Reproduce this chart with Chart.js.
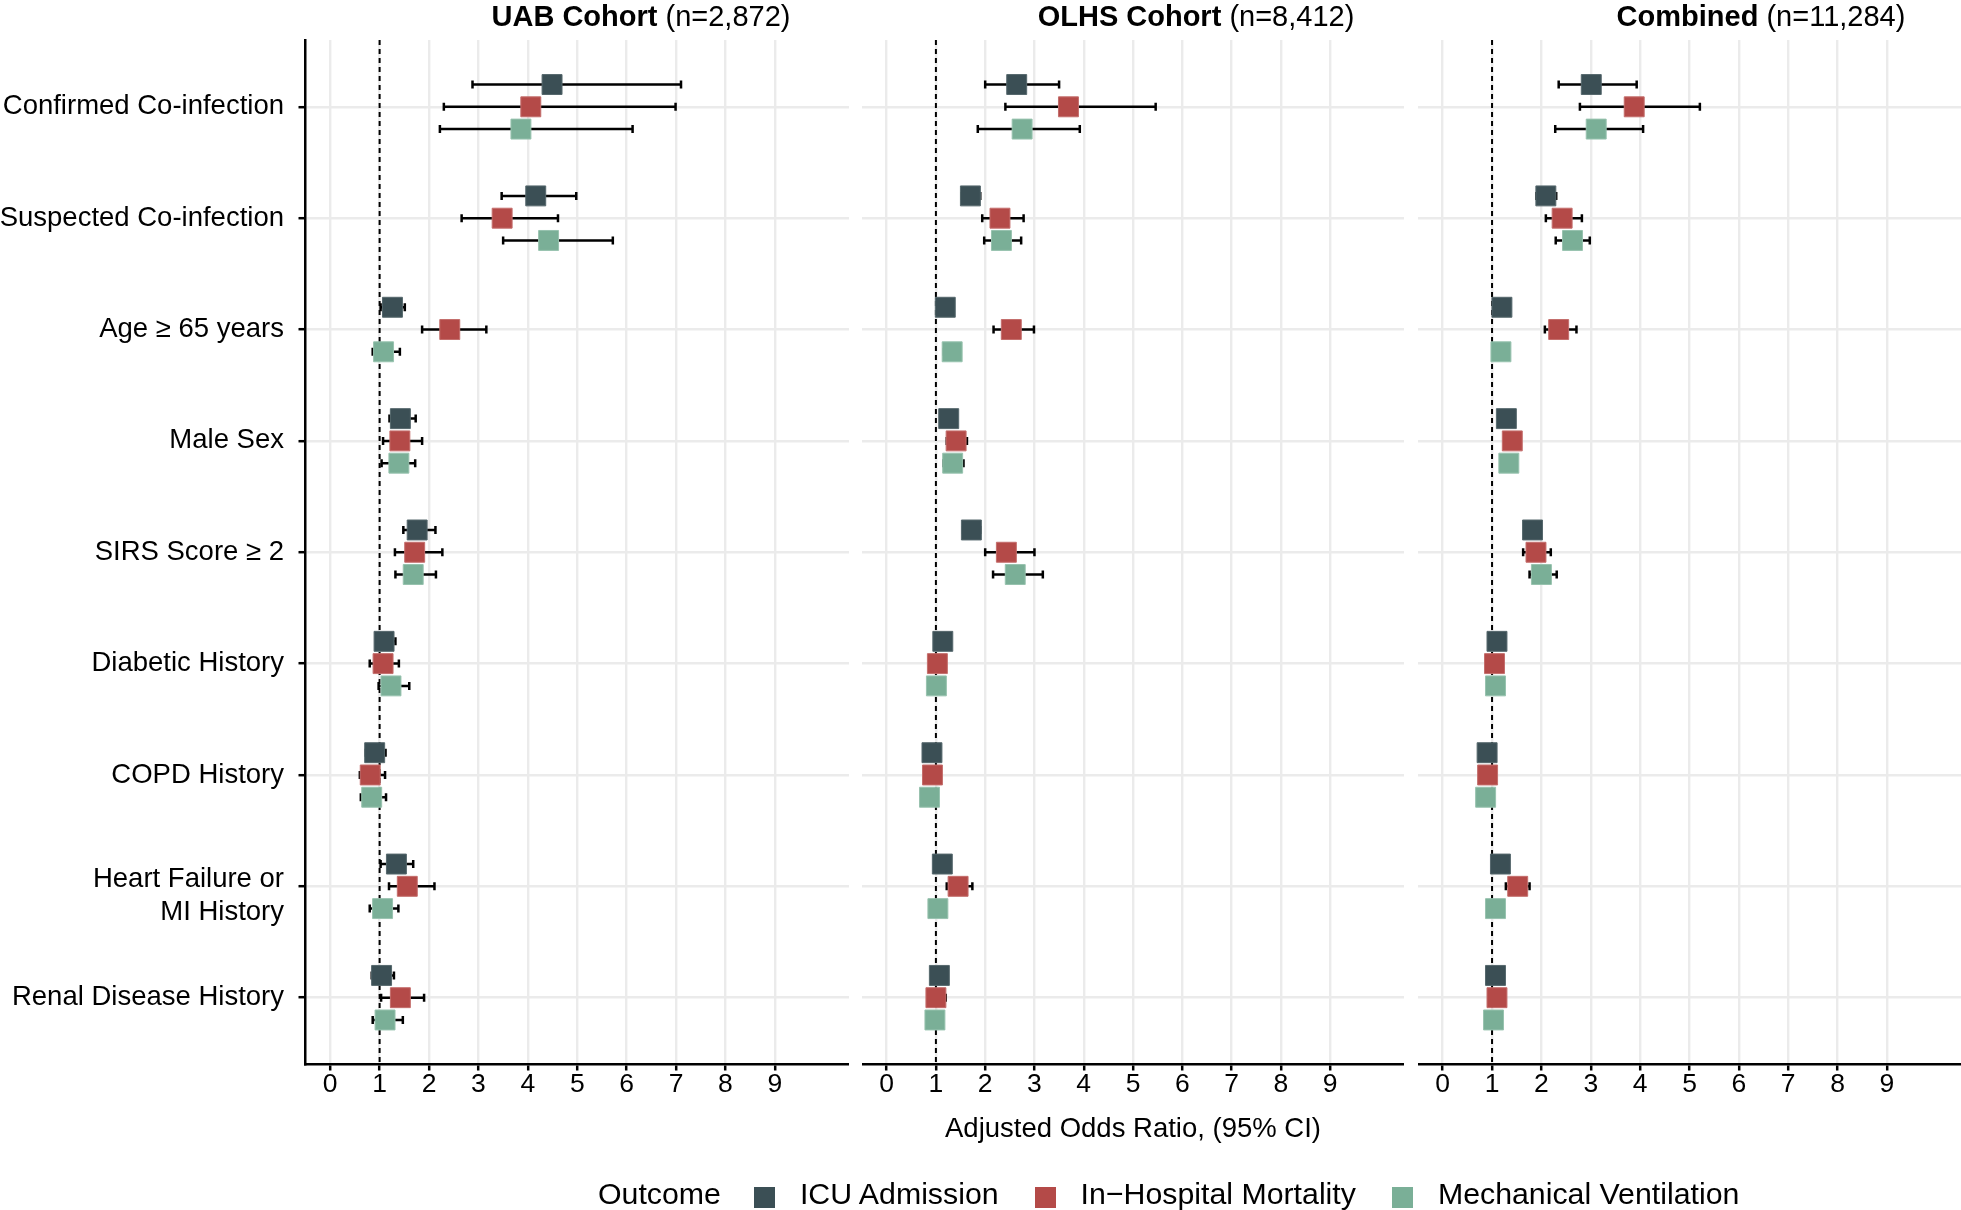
<!DOCTYPE html>
<html>
<head>
<meta charset="utf-8">
<title>Adjusted odds ratios by cohort</title>
<script src="https://cdn.jsdelivr.net/npm/chart.js@4.4.1/dist/chart.umd.min.js"></script>
<style>
  html, body { margin: 0; padding: 0; background: #fff; }
  body {
    width: 1961px; height: 1210px; position: relative; overflow: hidden;
    font-family: "Liberation Sans", Arial, sans-serif; color: #000;
  }
  .panel { position: absolute; top: 0; height: 1210px; }
  .panel canvas { display: block; }
  .title {
    position: absolute; top: 0; line-height: 32px; font-size: 29px;
    white-space: nowrap; transform: translateX(-50%);
  }
  .legend {
    position: absolute; top: 1177px; left: 598px; display: flex; align-items: flex-start;
    font-size: 30.3px; line-height: 34px; white-space: nowrap;
  }
  .legend .key { width: 21px; height: 21px; margin-top: 10px; margin-right: 25px; }
</style>
</head>
<body>
<div class="panel" id="p1" style="left:0;width:849px"><canvas id="c1" width="849" height="1210"></canvas></div>
<div class="panel" id="p2" style="left:862px;width:542px"><canvas id="c2" width="542" height="1210"></canvas></div>
<div class="panel" id="p3" style="left:1418px;width:543px"><canvas id="c3" width="543" height="1210"></canvas></div>
<div id="titles"></div>
<div class="legend" id="legend"></div>

<script>
  const CATEGORIES = [
    "Confirmed Co-infection",
    "Suspected Co-infection",
    "Age \u2265 65 years",
    "Male Sex",
    "SIRS Score \u2265 2",
    "Diabetic History",
    "COPD History",
    ["Heart Failure or", "MI History"],
    "Renal Disease History",
  ];
  const X_TICKS = [0, 1, 2, 3, 4, 5, 6, 7, 8, 9];
  const X_TITLE = "Adjusted Odds Ratio, (95% CI)";
  const REF_VALUE = 1;

  const OUTCOMES = ["ICU Admission", "In\u2212Hospital Mortality", "Mechanical Ventilation"];
  const COLORS = ["#3b4f55", "#b44a48", "#7aaf97"];
  const EDGES = ["#56686d", "#c46e6c", "#98c3af"];

  const PANEL_TITLES = ["UAB Cohort", "OLHS Cohort", "Combined"];
  const PANEL_N = ["(n=2,872)", "(n=8,412)", "(n=11,284)"];

  // each row: [odds ratio, lower 95% CI, upper 95% CI], one row per category
  const uabIcu = [
    [4.49, 2.88, 7.10], [4.16, 3.47, 4.98], [1.26, 1.02, 1.51], [1.42, 1.20, 1.73], [1.76, 1.48, 2.13],
    [1.09, 0.98, 1.32], [0.90, 0.72, 1.12], [1.34, 1.02, 1.68], [1.04, 0.84, 1.29],
  ];
  const uabMort = [
    [4.06, 2.30, 6.99], [3.48, 2.66, 4.61], [2.42, 1.86, 3.16], [1.41, 1.07, 1.86], [1.71, 1.31, 2.27],
    [1.07, 0.80, 1.39], [0.81, 0.60, 1.11], [1.56, 1.19, 2.11], [1.42, 1.03, 1.90],
  ];
  const uabVent = [
    [3.86, 2.22, 6.12], [4.42, 3.50, 5.72], [1.08, 0.86, 1.41], [1.39, 1.04, 1.72], [1.68, 1.32, 2.14],
    [1.23, 0.98, 1.60], [0.84, 0.62, 1.13], [1.06, 0.80, 1.38], [1.11, 0.86, 1.47],
  ];

  const olhsIcu = [
    [2.64, 2.00, 3.50], [1.70, 1.52, 1.90], [1.19, 1.05, 1.35], [1.26, 1.12, 1.42], [1.72, 1.55, 1.90],
    [1.14, 1.02, 1.28], [0.92, 0.80, 1.04], [1.13, 0.99, 1.29], [1.07, 0.93, 1.22],
  ];
  const olhsMort = [
    [3.69, 2.41, 5.46], [2.30, 1.94, 2.78], [2.53, 2.17, 2.99], [1.41, 1.22, 1.63], [2.43, 2.00, 3.00],
    [1.03, 0.89, 1.18], [0.93, 0.80, 1.08], [1.45, 1.22, 1.74], [1.00, 0.84, 1.20],
  ];
  const olhsVent = [
    [2.75, 1.85, 3.92], [2.33, 1.98, 2.73], [1.33, 1.16, 1.50], [1.34, 1.15, 1.56], [2.61, 2.16, 3.17],
    [1.01, 0.86, 1.17], [0.87, 0.74, 1.02], [1.04, 0.90, 1.20], [0.98, 0.84, 1.14],
  ];

  const combIcu = [
    [3.01, 2.35, 3.93], [2.09, 1.90, 2.30], [1.20, 1.06, 1.36], [1.29, 1.14, 1.45], [1.82, 1.66, 1.99],
    [1.10, 0.98, 1.24], [0.90, 0.80, 1.02], [1.17, 1.04, 1.32], [1.07, 0.95, 1.20],
  ];
  const combMort = [
    [3.88, 2.78, 5.21], [2.42, 2.09, 2.82], [2.35, 2.07, 2.71], [1.41, 1.26, 1.57], [1.89, 1.63, 2.19],
    [1.05, 0.92, 1.18], [0.91, 0.80, 1.04], [1.52, 1.28, 1.76], [1.10, 0.98, 1.24],
  ];
  const combVent = [
    [3.11, 2.28, 4.06], [2.63, 2.29, 2.98], [1.18, 1.04, 1.33], [1.34, 1.19, 1.50], [2.00, 1.76, 2.31],
    [1.07, 0.94, 1.22], [0.87, 0.76, 1.00], [1.07, 0.94, 1.22], [1.03, 0.91, 1.17],
  ];

  // vertical dodge of the three outcomes inside a category row
  const DODGE = [-0.2, 0, 0.2];
  // two-line labels sit a little below their row, like the original
  const MULTILINE_NUDGE = 0.087;

  Chart.defaults.font.family = "'Liberation Sans', Arial, sans-serif";
  Chart.defaults.color = "#000";

  const refLine = {
    id: "refLine",
    beforeDatasetsDraw(chart) {
      const { ctx, chartArea, scales } = chart;
      const px = scales.x.getPixelForValue(REF_VALUE);
      ctx.save();
      ctx.strokeStyle = "#000";
      ctx.lineWidth = 2;
      ctx.setLineDash([5, 4]);
      ctx.beginPath();
      ctx.moveTo(px, chartArea.top);
      ctx.lineTo(px, chartArea.bottom);
      ctx.stroke();
      ctx.restore();
    },
  };

  const errorBars = {
    id: "errorBars",
    beforeDatasetsDraw(chart) {
      const { ctx, scales: { x, y } } = chart;
      ctx.save();
      ctx.strokeStyle = "#000";
      ctx.lineWidth = 2.5;
      chart.data.datasets.forEach((ds) => {
        ds.data.forEach((p) => {
          const py = y.getPixelForValue(p.y);
          const x1 = x.getPixelForValue(p.lo);
          const x2 = x.getPixelForValue(p.hi);
          ctx.beginPath();
          ctx.moveTo(x1, py);
          ctx.lineTo(x2, py);
          ctx.moveTo(x1, py - 4);
          ctx.lineTo(x1, py + 4);
          ctx.moveTo(x2, py - 4);
          ctx.lineTo(x2, py + 4);
          ctx.stroke();
        });
      });
      ctx.restore();
    },
  };

  function isRow(value) {
    return Number.isInteger(value);
  }

  function makePanel(canvasId, groups, withLabels, withTitle) {
    const datasets = groups.map((rows, k) => ({
      label: OUTCOMES[k],
      data: rows.map((r, i) => ({ x: r[0], y: i + DODGE[k], lo: r[1], hi: r[2] })),
      pointStyle: "rect",
      pointRadius: 14.1,
      pointHoverRadius: 14.1,
      backgroundColor: COLORS[k],
      borderColor: EDGES[k],
      borderWidth: 1,
    }));

    return new Chart(document.getElementById(canvasId), {
      type: "scatter",
      data: { datasets },
      plugins: [refLine, errorBars],
      options: {
        responsive: false,
        animation: false,
        events: [],
        layout: { autoPadding: false, padding: { top: 40, left: 0, right: 0, bottom: 0 } },
        plugins: { legend: { display: false }, tooltip: { enabled: false }, title: { display: false } },
        scales: {
          x: {
            type: "linear",
            min: -0.5,
            max: 10.5,
            afterBuildTicks: (s) => { s.ticks = X_TICKS.map((v) => ({ value: v })); },
            afterFit: (s) => { s.height = 145.5; },
            grid: { color: "#ebebeb", lineWidth: 2.4, tickLength: 6, tickColor: "#000", tickWidth: 2.5 },
            border: { color: "#000", width: 2.5 },
            ticks: {
              padding: -2,
              color: "#000",
              autoSkip: false,
              maxRotation: 0,
              font: { size: 26.5 },
              callback: (v) => String(v),
            },
            title: {
              display: withTitle,
              text: X_TITLE,
              color: "#000",
              font: { size: 27.5 },
              padding: { top: 0, bottom: 64.5 },
            },
          },
          y: {
            type: "linear",
            reverse: true,
            min: -0.6,
            max: 8.6,
            afterBuildTicks: (s) => {
              const ticks = [];
              CATEGORIES.forEach((c, i) => {
                ticks.push({ value: i });
                if (Array.isArray(c)) {
                  ticks.push({ value: i + MULTILINE_NUDGE });
                }
              });
              s.ticks = ticks;
            },
            afterFit: (s) => { s.width = withLabels ? 305.5 : 0; },
            grid: {
              color: (c) => (isRow(c.tick.value) ? "#ebebeb" : "rgba(0,0,0,0)"),
              lineWidth: 2.4,
              drawTicks: withLabels,
              tickLength: 7,
              tickColor: (c) => (isRow(c.tick.value) ? "#000" : "rgba(0,0,0,0)"),
              tickWidth: 2.5,
            },
            border: { display: withLabels, color: "#000", width: 2.5 },
            ticks: {
              display: withLabels,
              padding: 14.5,
              color: "#000",
              autoSkip: false,
              font: { size: 27.5, lineHeight: 1.2 },
              callback: (v) => {
                if (isRow(v)) {
                  return Array.isArray(CATEGORIES[v]) ? "" : CATEGORIES[v];
                }
                return CATEGORIES[Math.round(v)];
              },
            },
          },
        },
      },
    });
  }

  makePanel("c1", [uabIcu, uabMort, uabVent], true, false);
  makePanel("c2", [olhsIcu, olhsMort, olhsVent], false, true);
  makePanel("c3", [combIcu, combMort, combVent], false, false);

  // panel titles: bold cohort name plus sample size
  const TITLE_CENTERS = [641, 1196, 1761];
  const titles = document.getElementById("titles");
  PANEL_TITLES.forEach((name, i) => {
    const div = document.createElement("div");
    div.className = "title";
    div.style.left = TITLE_CENTERS[i] + "px";
    const b = document.createElement("b");
    b.textContent = name;
    div.appendChild(b);
    div.appendChild(document.createTextNode(" " + PANEL_N[i]));
    titles.appendChild(div);
  });

  // shared legend at the bottom
  const legend = document.getElementById("legend");
  const head = document.createElement("span");
  head.textContent = "Outcome";
  head.style.marginRight = "33px";
  legend.appendChild(head);
  OUTCOMES.forEach((name, k) => {
    const key = document.createElement("span");
    key.className = "key";
    key.style.background = COLORS[k];
    legend.appendChild(key);
    const label = document.createElement("span");
    label.textContent = name;
    if (k < OUTCOMES.length - 1) {
      label.style.marginRight = "36px";
    }
    legend.appendChild(label);
  });
</script>
</body>
</html>
